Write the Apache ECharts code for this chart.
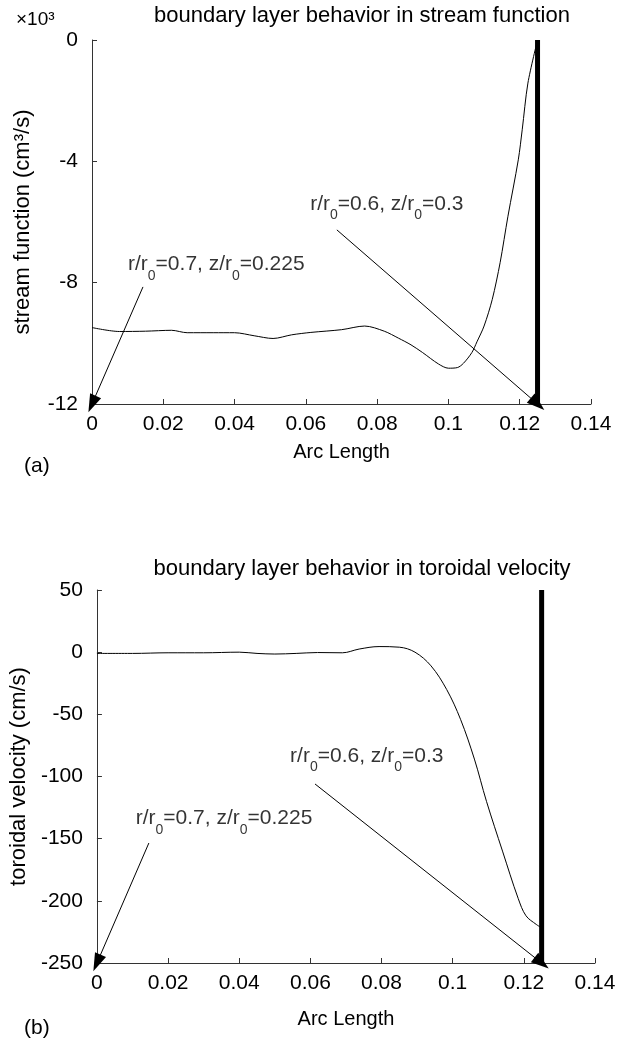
<!DOCTYPE html>
<html>
<head>
<meta charset="utf-8">
<script src="https://cdn.jsdelivr.net/npm/echarts@6/dist/echarts.min.js"></script>
<style>
html,body{margin:0;padding:0;background:#fff;}
#c{width:625px;height:1045px;}
</style>
</head>
<body>
<div id="c"></div>
<script>
// ---- data: stream function (top, ×10^3 cm^3/s) ----
var streamX = [0, 0.0077, 0.015, 0.0223, 0.0267, 0.034, 0.04, 0.0455, 0.0508, 0.056, 0.0614, 0.07, 0.0765, 0.082, 0.086, 0.0895, 0.0927, 0.0972, 0.1, 0.1025, 0.1042, 0.1066, 0.108, 0.11, 0.1123, 0.1145, 0.1167, 0.1196, 0.1207, 0.1223, 0.125];
var streamY = [-9.48, -9.61, -9.6, -9.57, -9.65, -9.65, -9.65, -9.75, -9.84, -9.72, -9.64, -9.55, -9.43, -9.6, -9.83, -10.05, -10.3, -10.68, -10.82, -10.8, -10.66, -10.3, -9.95, -9.43, -8.55, -7.34, -5.81, -3.95, -2.96, -1.42, 0];
// ---- data: toroidal velocity (bottom, cm/s) ----
var toroX = [0, 0.01, 0.02, 0.03, 0.04, 0.045, 0.05, 0.056, 0.062, 0.069, 0.0737, 0.0793, 0.085, 0.0894, 0.0939, 0.0983, 0.1022, 0.1061, 0.1095, 0.114, 0.1184, 0.1206, 0.1235, 0.1246];
var toroY = [-1, -1, -0.5, -0.5, 0, -1, -1.5, -1, -0.3, -0.5, 2.5, 4.5, 4, 0, -11, -30, -54, -86, -120, -160, -198, -212, -219, -221];
// boundary position (thick vertical line)
var boundaryX = 0.125;
var streamRange = [-12, 0];
var toroRange = [-250, 50];
// annotation texts and anchors [x, y] in data units
var annoText = ['r/r0=0.7, z/r0=0.225', 'r/r0=0.6, z/r0=0.3'];
var streamAnnoLabelPos = [[0.0101, -7.45], [0.0612, -5.45]];
var streamArrowFrom = [[0.0143, -8.14], [0.0687, -6.26]];
var streamArrowTo = [[0, -12], [0.125, -12]];
var toroAnnoLabelPos = [[0.0109, -135], [0.0543, -84.5]];
var toroArrowFrom = [[0.0146, -153.5], [0.0613, -106]];
var toroArrowTo = [[0, -250], [0.125, -250]];
var titles = ['boundary layer behavior in stream function', 'boundary layer behavior in toroidal velocity'];
var yNames = ['stream function (cm\u00b3/s)', 'toroidal velocity (cm/s)'];
var xName = 'Arc Length';
var panelTags = ['(a)', '(b)'];
var scaleNote = '\u00d710\u00b3';

var FONT = '"Liberation Sans", Arial, Helvetica, sans-serif';
var AX = '#333';

function pairs(xs, ys) { return xs.map(function (x, i) { return [x, ys[i]]; }); }
function richAnno(t) {
  var out = '';
  var segs = t.split(/r0=/);
  for (var i = 0; i < segs.length; i++) {
    if (i > 0) out += '{s|0}{m|=';
    else out += '{m|';
    out += segs[i] + (i < segs.length - 1 ? 'r' : '') + '}';
  }
  return out;
}

function xAxisOpt(gi, gap) {
  return {
    type: 'value', gridIndex: gi, min: 0, max: 0.14, interval: 0.02,
    name: xName, nameLocation: 'middle', nameGap: gap,
    nameTextStyle: { fontFamily: FONT, fontSize: 20, color: '#000' },
    axisLine: { show: true, onZero: false, lineStyle: { color: AX, width: 1 } },
    axisTick: { show: true, inside: true, length: 5, lineStyle: { color: AX } },
    axisLabel: { fontFamily: FONT, fontSize: 21, color: '#000', margin: 10,
      formatter: function (v) { return String(Math.round(v * 100) / 100); } },
    splitLine: { show: false }
  };
}
function yAxisOpt(gi, rng, itv, name, gap) {
  return {
    type: 'value', gridIndex: gi, min: rng[0], max: rng[1], interval: itv,
    name: name, nameLocation: 'middle', nameGap: gap,
    nameTextStyle: { fontFamily: FONT, fontSize: 22, color: '#000' },
    axisLine: { show: true, onZero: false, lineStyle: { color: AX, width: 1 } },
    axisTick: { show: true, inside: true, length: 5, lineStyle: { color: AX } },
    axisLabel: { fontFamily: FONT, fontSize: 21, color: '#000', margin: 14 },
    splitLine: { show: false }
  };
}
var richStyle = {
  m: { fontFamily: FONT, fontSize: 21, color: '#000', lineHeight: 24, verticalAlign: 'top' },
  s: { fontFamily: FONT, fontSize: 14, color: '#000', lineHeight: 15, padding: [15, 0, 0, 0], verticalAlign: 'top' }
};
function annoSeries(gi, pos, from, to) {
  var res = [];
  res.push({
    type: 'scatter', xAxisIndex: gi, yAxisIndex: gi, symbolSize: 0, silent: true,
    data: pos.map(function (p, i) { return { value: p, name: annoText[i] }; }),
    label: { show: true, position: 'right', distance: 0,
      formatter: function (p) { return richAnno(p.name); }, rich: richStyle },
    z: 5
  });
  res.push({
    type: 'line', xAxisIndex: gi, yAxisIndex: gi, data: [], silent: true,
    markLine: {
      silent: true, animation: false,
      symbol: ['none', 'triangle'], symbolSize: [12, 18],
      label: { show: false },
      lineStyle: { color: '#000', width: 1, type: 'solid' },
      emphasis: { disabled: true },
      data: from.map(function (f, i) {
        return [{ coord: f, symbol: 'none' }, { coord: to[i], symbol: 'triangle' }];
      })
    }
  });
  return res;
}

var chart = echarts.init(document.getElementById('c'), null, { renderer: 'canvas' });
var series = [
  { type: 'line', xAxisIndex: 0, yAxisIndex: 0, data: pairs(streamX, streamY), smooth: 0.3, showSymbol: false,
    lineStyle: { color: '#000', width: 1 }, z: 3 },
  { type: 'line', xAxisIndex: 0, yAxisIndex: 0, data: [[boundaryX, streamRange[0]], [boundaryX, streamRange[1]]], showSymbol: false,
    lineStyle: { color: '#000', width: 5 }, z: 4 },
  { type: 'line', xAxisIndex: 1, yAxisIndex: 1, data: pairs(toroX, toroY), smooth: 0.35, showSymbol: false,
    lineStyle: { color: '#000', width: 1 }, z: 3 },
  { type: 'line', xAxisIndex: 1, yAxisIndex: 1, data: [[boundaryX, toroRange[0]], [boundaryX, toroRange[1]]], showSymbol: false,
    lineStyle: { color: '#000', width: 5 }, z: 4 }
].concat(annoSeries(0, streamAnnoLabelPos, streamArrowFrom, streamArrowTo))
 .concat(annoSeries(1, toroAnnoLabelPos, toroArrowFrom, toroArrowTo));

chart.setOption({
  animation: false,
  backgroundColor: '#fff',
  title: [
    { text: titles[0], left: 357, top: 0, textAlign: 'center',
      textStyle: { fontFamily: FONT, fontSize: 22, fontWeight: 'normal', color: '#000' } },
    { text: titles[1], left: 357, top: 553, textAlign: 'center',
      textStyle: { fontFamily: FONT, fontSize: 22, fontWeight: 'normal', color: '#000' } }
  ],
  grid: [
    { left: 92, top: 40, width: 499, height: 364 },
    { left: 95, top: 590, width: 500, height: 373 }
  ],
  xAxis: [xAxisOpt(0, 38), xAxisOpt(1, 46)],
  yAxis: [yAxisOpt(0, streamRange, 4, yNames[0], 58), yAxisOpt(1, toroRange, 50, yNames[1], 62)],
  graphic: [
    { type: 'text', left: 16, top: 10, style: { text: scaleNote, font: '19px ' + FONT, fill: '#000' } },
    { type: 'text', left: 24, top: 456, style: { text: panelTags[0], font: '21px ' + FONT, fill: '#000' } },
    { type: 'text', left: 24, top: 1018, style: { text: panelTags[1], font: '21px ' + FONT, fill: '#000' } }
  ],
  series: series
});
</script>
</body>
</html>
